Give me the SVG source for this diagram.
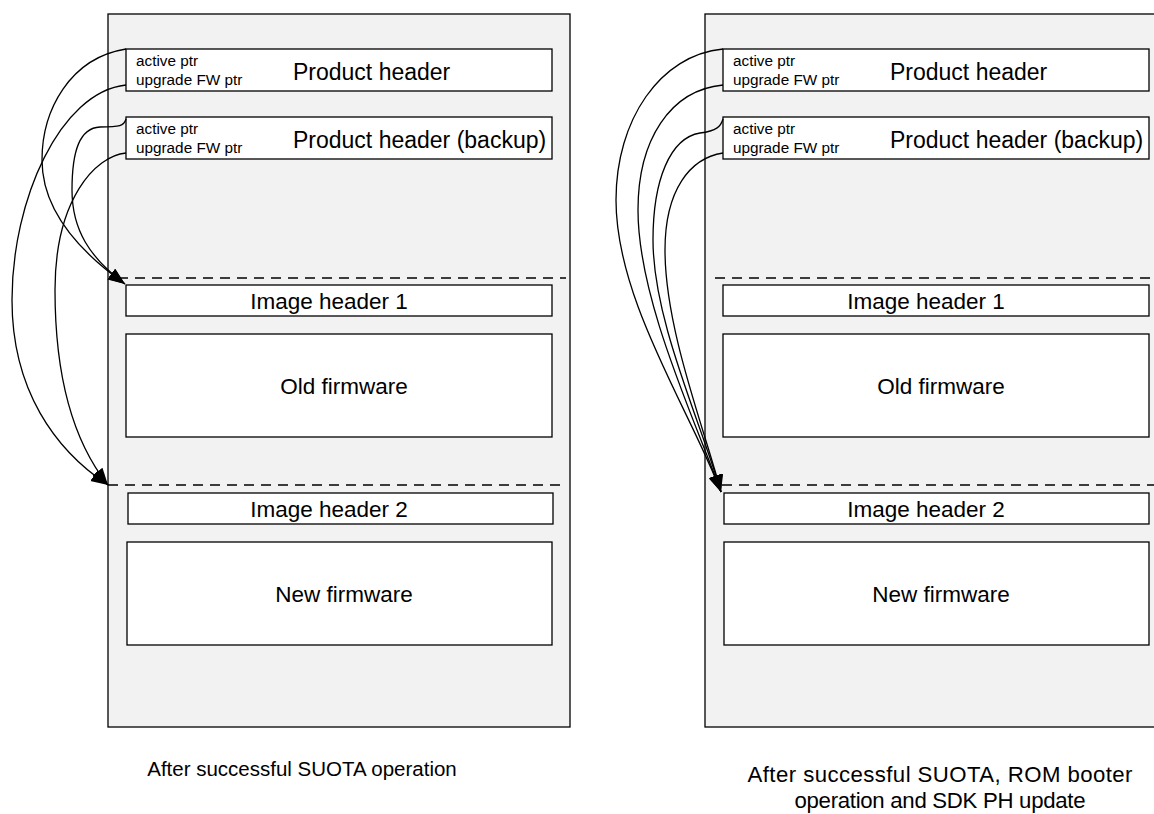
<svg xmlns="http://www.w3.org/2000/svg" width="1154" height="814" viewBox="0 0 1154 814">
<style>
.outer{fill:#f2f2f2;stroke:#000;stroke-width:1.3}
.box{fill:#fff;stroke:#000;stroke-width:1.3}
.dash{fill:none;stroke:#000;stroke-width:1.3;stroke-dasharray:10 7}
.con{fill:none;stroke:#000;stroke-width:1.3;marker-end:url(#arr)}
text{font-family:"Liberation Sans",Arial,sans-serif;fill:#000}
.sm{font-size:15.3px}
.ph{font-size:23px}
.lb{font-size:22.5px;text-anchor:middle}
.cap{font-size:20.5px;text-anchor:middle}
.cap2{font-size:22.2px;text-anchor:middle}
</style>
<defs>
<marker id="arr" markerUnits="userSpaceOnUse" markerWidth="18" markerHeight="14" refX="17" refY="6.5" orient="auto">
<path d="M0,0 L17,6.5 L0,13 z" fill="#000"/>
</marker>
</defs>
<g id="panel-left">
<rect class="outer" x="108" y="14" width="462" height="713"/>
<line class="dash" x1="118" y1="278" x2="566" y2="278"/>
<line class="dash" x1="108" y1="485" x2="566" y2="485"/>
</g>
<g id="ph-left">
<rect class="box" x="126" y="49" width="426" height="42"/>
<text class="sm" x="136" y="66">active ptr</text>
<text class="sm" x="136" y="85">upgrade FW ptr</text>
<text class="ph" x="293" y="80">Product header</text>
</g>
<g id="phb-left">
<rect class="box" x="126" y="117" width="426" height="42"/>
<text class="sm" x="136" y="134">active ptr</text>
<text class="sm" x="136" y="153">upgrade FW ptr</text>
<text class="ph" x="293" y="148">Product header (backup)</text>
</g>
<g id="ih1-left">
<rect class="box" x="126" y="285" width="426" height="31"/>
<text class="lb" x="329" y="309">Image header 1</text>
</g>
<g id="old-left">
<rect class="box" x="126" y="334" width="426" height="103"/>
<text class="lb" x="344" y="394">Old firmware</text>
</g>
<g id="ih2-left">
<rect class="box" x="128" y="493" width="425" height="31"/>
<text class="lb" x="329" y="517">Image header 2</text>
</g>
<g id="new-left">
<rect class="box" x="127" y="542" width="425" height="103"/>
<text class="lb" x="344" y="602">New firmware</text>
</g>
<g id="caption-left">
<text class="cap" x="302" y="776">After successful SUOTA operation</text>
</g>

<g id="panel-right">
<rect class="outer" x="705" y="14" width="462" height="713"/>
<line class="dash" x1="715" y1="278" x2="1160" y2="278"/>
<line class="dash" x1="722" y1="485" x2="1160" y2="485"/>
</g>
<g id="ph-right">
<rect class="box" x="723" y="49" width="426" height="42"/>
<text class="sm" x="733" y="66">active ptr</text>
<text class="sm" x="733" y="85">upgrade FW ptr</text>
<text class="ph" x="890" y="80">Product header</text>
</g>
<g id="phb-right">
<rect class="box" x="723" y="117" width="426" height="42"/>
<text class="sm" x="733" y="134">active ptr</text>
<text class="sm" x="733" y="153">upgrade FW ptr</text>
<text class="ph" x="890" y="148">Product header (backup)</text>
</g>
<g id="ih1-right">
<rect class="box" x="723" y="285" width="426" height="31"/>
<text class="lb" x="926" y="309">Image header 1</text>
</g>
<g id="old-right">
<rect class="box" x="723" y="334" width="426" height="103"/>
<text class="lb" x="941" y="394">Old firmware</text>
</g>
<g id="ih2-right">
<rect class="box" x="724" y="493" width="425" height="31"/>
<text class="lb" x="926" y="517">Image header 2</text>
</g>
<g id="new-right">
<rect class="box" x="724" y="542" width="425" height="103"/>
<text class="lb" x="941" y="602">New firmware</text>
</g>
<g id="caption-right">
<text class="cap2" x="940" y="782" textLength="385">After successful SUOTA, ROM booter</text>
<text class="cap2" x="940" y="808" textLength="291">operation and SDK PH update</text>
</g>

<g id="connectors">
<path class="con" d="M126,49 C70,58 42,110 42,160 C42,210 80,252 125,284"/>
<path class="con" d="M126,85 C60,92 12,200 12,300 C12,390 55,450 108,485"/>
<path class="con" d="M126,119 C124,126 120,127 100,127 C80,128 72,150 72,190 C72,230 90,258 125,284"/>
<path class="con" d="M126,153 C95,156 55,200 55,290 C55,390 80,450 108,485"/>
<path class="con" d="M723,49 C660,55 616,120 616,200 C616,300 690,410 721,492"/>
<path class="con" d="M723,85 C670,90 638,140 638,210 C638,300 695,420 721,492"/>
<path class="con" d="M723,119 C721,126 717,131 700,133 C670,138 653,180 653,240 C653,320 700,420 721,492"/>
<path class="con" d="M723,153 C690,158 665,190 665,250 C665,330 705,430 721,492"/>
</g>
</svg>
